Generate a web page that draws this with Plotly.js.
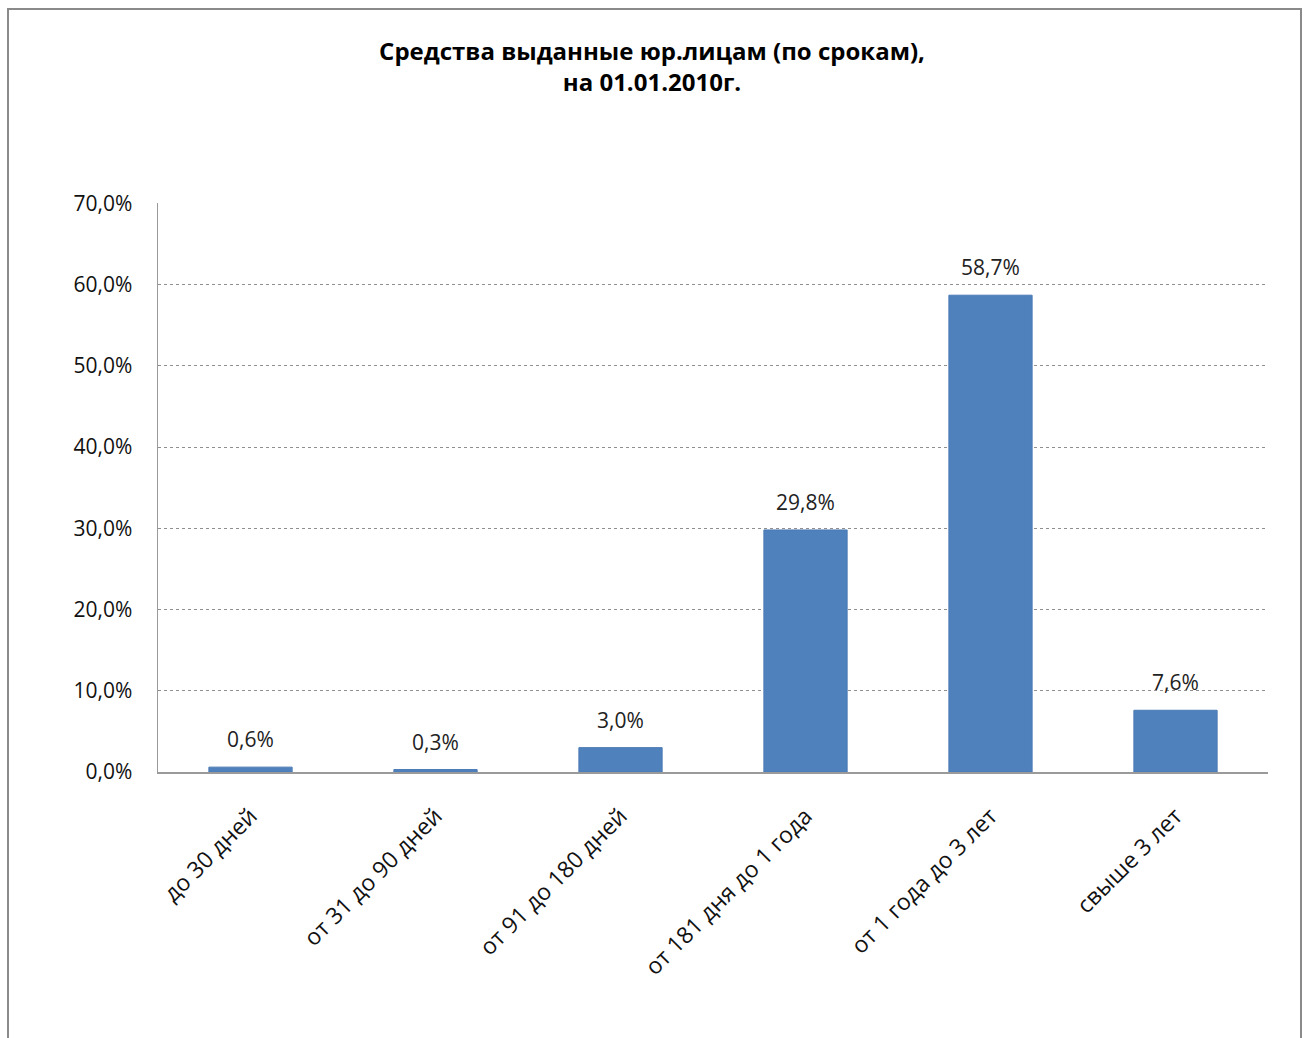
<!DOCTYPE html>
<html>
<head>
<meta charset="utf-8">
<script src="https://cdn.plot.ly/plotly-3.0.1.min.js"></script>
<style>
html,body{margin:0;padding:0;background:#fff;}
#wrap{position:relative;width:1304px;height:1038px;overflow:hidden;}
#chart{position:absolute;left:0;top:0;width:1304px;height:1038px;}
#frame{position:absolute;left:7px;top:8px;width:1291px;height:1040px;border:2px solid #8a8a8a;pointer-events:none;}
</style>
</head>
<body>
<div id="wrap"><div id="chart"></div><div id="frame"></div></div>
<script>
const categories = ["до 30 дней", "от 31 до 90 дней", "от 91 до 180 дней", "от 181 дня до 1 года", "от 1 года до 3 лет", "свыше 3 лет"];
const shares = [0.6, 0.3, 3.0, 29.8, 58.7, 7.6];
const yTicks = [0, 10, 20, 30, 40, 50, 60, 70];

const fmt = v => v.toFixed(1).replace(".", ",") + "%";
const font = "'Open Sans', sans-serif";

Plotly.newPlot("chart", [{
  type: "bar",
  x: categories,
  y: shares,
  marker: {color: "#4f81bd", line: {color: "#4a7ab5", width: 1}},
  width: 0.45,
  hoverinfo: "skip"
}, {
  type: "scatter",
  mode: "markers+text",
  x: categories,
  y: shares,
  text: shares.map(fmt),
  textposition: "top center",
  textfont: {family: font, size: 21, color: "#222"},
  marker: {size: 22, opacity: 0},
  cliponaxis: false,
  hoverinfo: "skip"
}], {
  width: 1304, height: 1038,
  paper_bgcolor: "#fff", plot_bgcolor: "#fff",
  margin: {l: 158, r: 36, t: 203, b: 266},
  showlegend: false,
  title: {
    text: "<b>Средства выданные юр.лицам (по срокам),<br>на 01.01.2010г.</b>",
    x: 0.5, xanchor: "center", y: 0.942, yanchor: "top",
    font: {family: font, size: 24, color: "#000"}
  },
  xaxis: {
    type: "category",
    tickangle: -45,
    tickfont: {family: font, size: 23, color: "#111"},
    ticklabelstandoff: 20,
    showline: true, linecolor: "#9a9a9a", linewidth: 1.5,
    ticks: "", showgrid: false, automargin: false
  },
  yaxis: {
    range: [0, 70.05],
    tickvals: yTicks,
    ticktext: yTicks.map(fmt),
    tickfont: {family: font, size: 21, color: "#111"},
    ticklabelstandoff: 20,
    showline: true, linecolor: "#9a9a9a", linewidth: 1.5,
    showgrid: true, gridcolor: "#8f8f8f", gridwidth: 1, griddash: "dot",
    ticks: "", zeroline: false, automargin: false
  },
  bargap: 0.55
}, {displayModeBar: false, staticPlot: true});
</script>
</body>
</html>
